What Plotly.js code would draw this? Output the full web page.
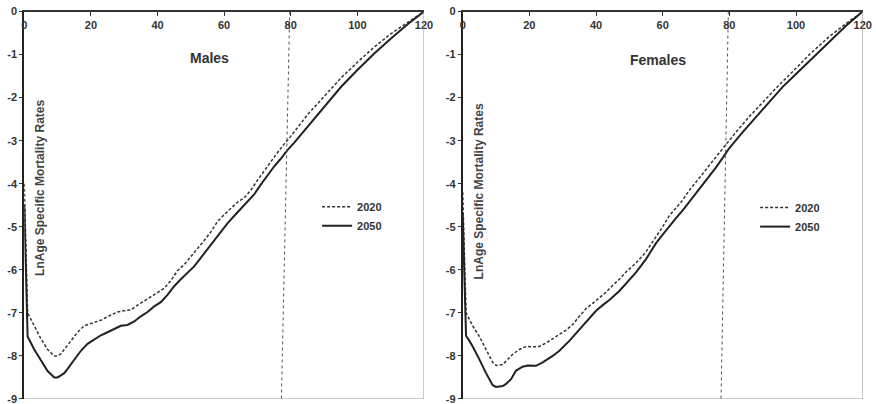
<!DOCTYPE html>
<html>
<head>
<meta charset="utf-8">
<script src="https://cdn.plot.ly/plotly-3.0.1.min.js"></script>
<style>html,body{margin:0;padding:0;background:#fff;}#chart{width:876px;height:404px;}</style>
</head>
<body>
<div id="chart"></div>
<script>
// ---- data ----
const maleAges2020 = [0,1,2,3,5,7,9,10,11,12,14,16,18,20,23,26,28,30,32,34,36,38,40,42,44,46,48,50,52,54,56,58,60,62,64,66,68,70,72,74,76,78,80,85,90,95,100,105,110,115,120];
const male2020 = [-4.0,-7.0,-7.15,-7.3,-7.6,-7.85,-8.0,-8.0,-7.95,-7.85,-7.65,-7.45,-7.3,-7.25,-7.17,-7.05,-6.98,-6.95,-6.93,-6.82,-6.72,-6.62,-6.52,-6.43,-6.25,-6.02,-5.88,-5.7,-5.52,-5.32,-5.12,-4.88,-4.72,-4.57,-4.43,-4.33,-4.15,-3.92,-3.7,-3.48,-3.28,-3.08,-2.9,-2.4,-1.98,-1.55,-1.18,-0.83,-0.52,-0.25,0];
const maleAges2050 = [0,1,2,3,5,7,9,10,11,12,13,14,15,17,19,21,23,25,27,29,31,33,35,37,39,41,43,45,47,49,51,53,55,57,59,61,63,65,67,69,71,73,75,77,79,81,85,90,95,100,105,110,115,120];
const male2050 = [-4.5,-7.55,-7.7,-7.85,-8.1,-8.35,-8.5,-8.5,-8.45,-8.4,-8.3,-8.2,-8.08,-7.88,-7.72,-7.62,-7.52,-7.45,-7.37,-7.3,-7.28,-7.2,-7.08,-6.98,-6.85,-6.75,-6.58,-6.38,-6.22,-6.08,-5.92,-5.72,-5.52,-5.3,-5.12,-4.92,-4.75,-4.58,-4.42,-4.25,-4.02,-3.8,-3.6,-3.42,-3.22,-3.05,-2.68,-2.2,-1.76,-1.36,-0.98,-0.63,-0.3,0];
const femaleAges2020 = [0,1,2,3,5,7,9,10,12,13,15,17,19,21,23,25,27,29,31,33,35,37,39,41,43,45,47,49,52,55,57,60,62,64,66,68,70,72,74,76,78,80,82,86,90,92,95,100,104,107,110,115,120];
const female2020 = [-4.2,-7.0,-7.15,-7.3,-7.55,-7.85,-8.15,-8.22,-8.2,-8.12,-7.96,-7.85,-7.78,-7.79,-7.78,-7.7,-7.61,-7.5,-7.4,-7.27,-7.08,-6.9,-6.78,-6.65,-6.52,-6.36,-6.22,-6.05,-5.84,-5.58,-5.35,-5.0,-4.74,-4.55,-4.38,-4.15,-3.97,-3.77,-3.57,-3.38,-3.19,-2.98,-2.8,-2.44,-2.1,-1.95,-1.7,-1.32,-1.0,-0.79,-0.58,-0.28,0];
const femaleAges2050 = [0,1,2,3,5,7,9,10,12,13,14.5,16,18,19.5,22,24,27,29,32,34,36,38,40,42,44,47,50,52,55,58,60,62,64,66,68,70,72,74,76,78,80,84,88,92,96,100,104,107,110,115,120];
const female2050 = [-4.7,-7.53,-7.65,-7.78,-8.08,-8.4,-8.68,-8.72,-8.7,-8.65,-8.54,-8.34,-8.25,-8.22,-8.23,-8.15,-8.0,-7.88,-7.65,-7.48,-7.3,-7.12,-6.95,-6.82,-6.7,-6.49,-6.22,-6.06,-5.75,-5.38,-5.18,-4.98,-4.8,-4.62,-4.42,-4.24,-4.03,-3.83,-3.62,-3.4,-3.17,-2.8,-2.45,-2.11,-1.75,-1.45,-1.15,-0.94,-0.7,-0.33,0];
// life-expectancy reference lines (age at top, age at bottom)
const maleRefAges = [79.7, 77.2];
const femaleRefAges = [79.7, 77.5];
const refLevels = [0, -9];
const seriesNames = ['2020', '2050'];
const panelTitles = ['Males', 'Females'];
const yTitle = 'LnAge Specific Mortality Rates';
const xTicks = [0,20,40,60,80,100,120];
const yTicks = [0,-1,-2,-3,-4,-5,-6,-7,-8,-9];

const FONT = 'Liberation Sans, Arial, sans-serif';
const tickFont = {family: FONT, size: 11, color: '#333', weight: 'bold'};

const dashed = {color: '#333', width: 1.5, dash: '3px,2px'};
const solid = {color: '#222', width: 2};
const refLine = {color: '#555', width: 1, dash: 'dot'};

const traces = [
  {x: maleAges2020, y: male2020, name: seriesNames[0], mode: 'lines', line: dashed, xaxis: 'x', yaxis: 'y', legend: 'legend'},
  {x: maleAges2050, y: male2050, name: seriesNames[1], mode: 'lines', line: solid, xaxis: 'x', yaxis: 'y', legend: 'legend'},
  {x: maleRefAges, y: refLevels, mode: 'lines', line: refLine, xaxis: 'x', yaxis: 'y', showlegend: false, hoverinfo: 'skip'},
  {x: femaleAges2020, y: female2020, name: seriesNames[0], mode: 'lines', line: dashed, xaxis: 'x2', yaxis: 'y2', legend: 'legend2'},
  {x: femaleAges2050, y: female2050, name: seriesNames[1], mode: 'lines', line: solid, xaxis: 'x2', yaxis: 'y2', legend: 'legend2'},
  {x: femaleRefAges, y: refLevels, mode: 'lines', line: refLine, xaxis: 'x2', yaxis: 'y2', showlegend: false, hoverinfo: 'skip'}
];

function xAxis(domain, anchor) {
  return {
    domain: domain, anchor: anchor, range: [0, 120], side: 'top',
    tickvals: xTicks, ticktext: xTicks.map(String),
    ticks: 'inside', ticklen: 4, tickcolor: '#333',
    ticklabelposition: 'inside', ticklabeloverflow: 'allow', ticklabelstandoff: 5,
    tickfont: tickFont,
    showline: true, linecolor: '#333', linewidth: 1.5,
    showgrid: false, zeroline: false, fixedrange: true
  };
}
function yAxis(domain, anchor) {
  return {
    domain: domain, anchor: anchor, range: [-9, 0],
    tickvals: yTicks, ticktext: yTicks.map(String),
    ticks: 'outside', ticklen: 3, tickcolor: '#333',
    ticklabeloverflow: 'allow',
    tickfont: tickFont,
    showline: true, linecolor: '#222', linewidth: 2,
    showgrid: false, zeroline: false, fixedrange: true
  };
}

const yDom = [0.0124, 0.9715];
const legendFont = {family: FONT, size: 11, color: '#333', weight: 'bold'};
const layout = {
  width: 876, height: 404,
  margin: {l: 0, r: 0, t: 0, b: 0},
  paper_bgcolor: '#fff', plot_bgcolor: '#fff',
  showlegend: true,
  xaxis: xAxis([0.0277, 0.484], 'y'),
  yaxis: yAxis(yDom, 'x'),
  xaxis2: xAxis([0.5282, 0.9848], 'y2'),
  yaxis2: yAxis(yDom, 'x2'),
  legend: {x: 0.362, y: 0.524, xanchor: 'left', yanchor: 'top', bgcolor: 'rgba(0,0,0,0)',
    font: legendFont, itemwidth: 30, tracegroupgap: 0},
  legend2: {x: 0.862, y: 0.522, xanchor: 'left', yanchor: 'top', bgcolor: 'rgba(0,0,0,0)',
    font: legendFont, itemwidth: 30, tracegroupgap: 0},
  shapes: [
    {type: 'line', xref: 'x', yref: 'y', x0: 120, x1: 120, y0: -9, y1: 0, line: {color: '#999', width: 1}},
    {type: 'line', xref: 'x', yref: 'y', x0: 0, x1: 120, y0: -9, y1: -9, line: {color: '#999', width: 1}},
    {type: 'line', xref: 'x2', yref: 'y2', x0: 120, x1: 120, y0: -9, y1: 0, line: {color: '#999', width: 1}},
    {type: 'line', xref: 'x2', yref: 'y2', x0: 0, x1: 120, y0: -9, y1: -9, line: {color: '#999', width: 1}}
  ],
  annotations: [
    {text: panelTitles[0], xref: 'paper', yref: 'paper', x: 0.2397, y: 0.8564, xanchor: 'center', yanchor: 'middle', showarrow: false,
      font: {family: FONT, size: 14, color: '#333', weight: 'bold'}},
    {text: panelTitles[1], xref: 'paper', yref: 'paper', x: 0.7508, y: 0.8515, xanchor: 'center', yanchor: 'middle', showarrow: false,
      font: {family: FONT, size: 14, color: '#333', weight: 'bold'}},
    {text: yTitle, xref: 'paper', yref: 'paper', x: 0.0457, y: 0.535, xanchor: 'center', yanchor: 'middle', textangle: -90, showarrow: false,
      font: {family: FONT, size: 12, color: '#444', weight: 'bold'}},
    {text: yTitle, xref: 'paper', yref: 'paper', x: 0.5472, y: 0.527, xanchor: 'center', yanchor: 'middle', textangle: -90, showarrow: false,
      font: {family: FONT, size: 12, color: '#444', weight: 'bold'}}
  ]
};

Plotly.newPlot('chart', traces, layout, {displayModeBar: false, staticPlot: true});
</script>
</body>
</html>
